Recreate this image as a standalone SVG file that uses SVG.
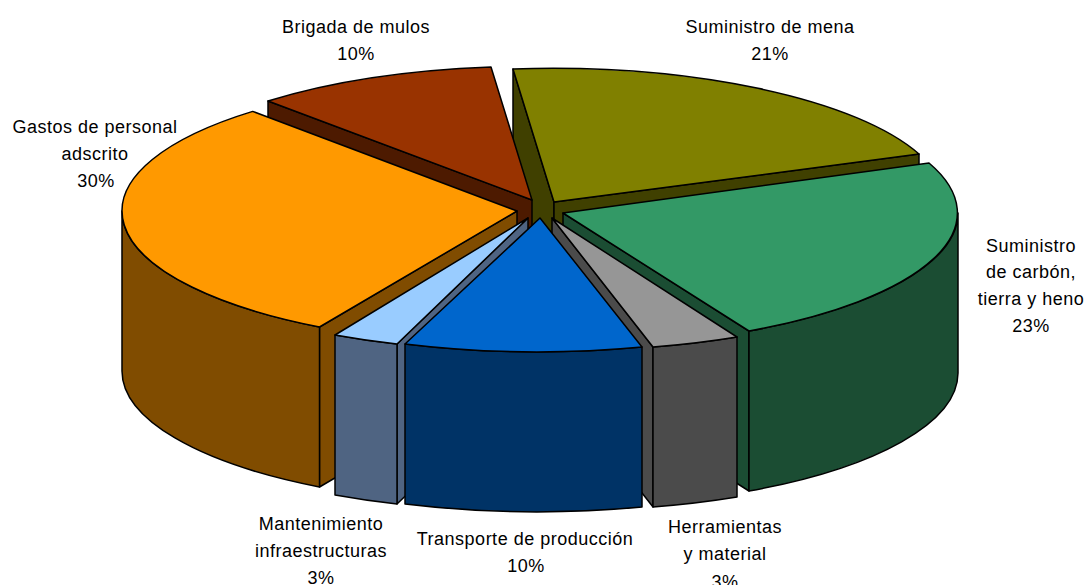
<svg xmlns="http://www.w3.org/2000/svg" width="1088" height="585" viewBox="0 0 1088 585">
<style>
.e{stroke:#000;stroke-width:1.5;stroke-linejoin:round}
.lbl{font-family:"Liberation Sans",Arial,sans-serif;font-size:18px;letter-spacing:0.5px;fill:#000;text-anchor:middle}
.olT{fill:#808000}.olS{fill:#404000}
.brT{fill:#993300}.brS{fill:#4D1A00}
.orT{fill:#FF9900}.orS{fill:#804C00}
.grT{fill:#339966}.grS{fill:#1B4D33}
.lbT{fill:#99CCFF}.lbS{fill:#4F6482}
.gyT{fill:#969696}.gyS{fill:#4B4B4B}
.blT{fill:#0066CC}.blS{fill:#003366}
</style>
<rect width="1088" height="585" fill="#fff"/>
<g id="slice-suministro-mena">
<path class="e olS" d="M513,69 L554,202 L554,362 L513,229 Z"/>
<path class="e olS" d="M554,202 L919,154 L919,314 L554,362 Z"/>
<path class="e olT" d="M554,202 L513,69 A395,134 0 0 1 919,154 Z"/>
</g>
<g id="slice-brigada-mulos">
<path class="e brS" d="M268,101 L532,200 L532,360 L268,261 Z"/>
<path class="e brT" d="M532,200 L491,67 A395,134 0 0 0 268,101 Z"/>
</g>
<g id="slice-gastos-personal">
<path class="e orS" d="M517,211 L319.5,327 L319.5,487 L517,371 Z"/>
<path class="e orS" d="M122,211 A395,134 0 0 0 319.5,327 L319.5,487 A395,134 0 0 1 122,371 Z"/>
<path class="e orT" d="M517,211 L252.7,111.4 A395,134 0 0 0 319.5,327 Z"/>
</g>
<g id="slice-suministro-carbon">
<path class="e grS" d="M563,213 L749,331 L749,491 L563,373 Z"/>
<path class="e grS" d="M958,213 A395,134 0 0 1 749,331 L749,491 A395,134 0 0 0 958,373 Z"/>
<path class="e grT" d="M563,213 L929,163 A395,134 0 0 1 749,331 Z"/>
</g>
<g id="slice-mantenimiento">
<path class="e lbS" d="M528,218 L397,344 L397,504 L528,378 Z"/>
<path class="e lbS" d="M397,344 A395,134 0 0 1 335,335 L335,495 A395,134 0 0 0 397,504 Z"/>
<path class="e lbT" d="M528,218 L397,344 A395,134 0 0 1 335,335 Z"/>
</g>
<g id="slice-herramientas">
<path class="e gyS" d="M552,218 L653,347 L653,507 L552,378 Z"/>
<path class="e gyS" d="M737,337 A395,134 0 0 1 653,347 L653,507 A395,134 0 0 0 737,497 Z"/>
<path class="e gyT" d="M552,218 L737,337 A395,134 0 0 1 653,347 Z"/>
</g>
<g id="slice-transporte">
<path class="e blS" d="M642,347 A395,134 0 0 1 405,344 L405,504 A395,134 0 0 0 642,507 Z"/>
<path class="e blT" d="M540,218 L642,347 A395,134 0 0 1 405,344 Z"/>
</g>
<g id="labels">
<g id="label-brigada"><text class="lbl" x="356" y="33">Brigada de mulos</text><text class="lbl" x="356" y="60">10%</text></g>
<g id="label-mena"><text class="lbl" x="770" y="33">Suministro de mena</text><text class="lbl" x="770" y="60">21%</text></g>
<g id="label-gastos"><text class="lbl" x="95" y="133">Gastos de personal</text><text class="lbl" x="95" y="160">adscrito</text><text class="lbl" x="96" y="187">30%</text></g>
<g id="label-carbon"><text class="lbl" x="1031" y="252">Suministro</text><text class="lbl" x="1031" y="278">de carbón,</text><text class="lbl" x="1031" y="305">tierra y heno</text><text class="lbl" x="1031" y="332">23%</text></g>
<g id="label-mantenimiento"><text class="lbl" x="321" y="530">Mantenimiento</text><text class="lbl" x="321" y="557">infraestructuras</text><text class="lbl" x="321" y="584">3%</text></g>
<g id="label-transporte"><text class="lbl" x="525" y="545">Transporte de producción</text><text class="lbl" x="526" y="572">10%</text></g>
<g id="label-herramientas"><text class="lbl" x="725" y="533">Herramientas</text><text class="lbl" x="725" y="560">y material</text><text class="lbl" x="725" y="588">3%</text></g>
</g>
</svg>
